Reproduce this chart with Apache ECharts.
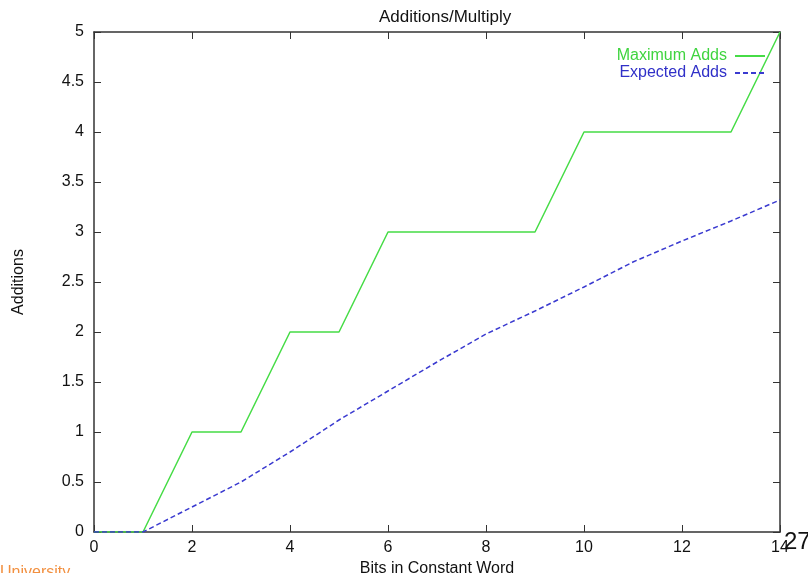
<!DOCTYPE html>
<html>
<head>
<meta charset="utf-8">
<script src="https://cdn.jsdelivr.net/npm/echarts@6/dist/echarts.min.js"></script>
<style>
  html, body { margin: 0; padding: 0; background: #fff; }
  #main { width: 808px; height: 573px; }
</style>
</head>
<body>
<div id="main"></div>
<script>
// 数据
var bits = [0, 1, 2, 3, 4, 5, 6, 7, 8, 9, 10, 11, 12, 13, 14];
var maxAdds = [0, 0, 1, 1, 2, 2, 3, 3, 3, 3, 4, 4, 4, 4, 5];
var expAdds = [0, 0, 0.25, 0.5, 0.8, 1.12, 1.41, 1.70, 1.98, 2.21, 2.45, 2.70, 2.91, 3.11, 3.32];

function pairs(ys) {
    return bits.map(function (x, i) { return [x, ys[i]]; });
}

var myChart = echarts.init(document.getElementById('main'));
var font = 'Liberation Sans, Arial, sans-serif';
var axisColor = '#333';
var green = '#46dc46';
var blue = '#3a3ad0';

// 四周的坐标轴（gnuplot 风格，刻度朝内）
function frameAxis(extra) {
    var a = {
        type: 'value',
        axisLine: { show: true, onZero: false, lineStyle: { color: axisColor, width: 1.5 } },
        axisTick: { show: true, inside: true, length: 7, lineStyle: { color: axisColor } },
        splitLine: { show: false }
    };
    for (var k in extra) a[k] = extra[k];
    return a;
}

myChart.setOption({
    animation: false,
    title: {
        text: 'Additions/Multiply',
        left: 374,
        top: 4,
        textStyle: { fontFamily: font, fontSize: 17, fontWeight: 'normal', color: '#111' }
    },
    legend: {
        orient: 'vertical',
        right: 37,
        top: 43,
        align: 'right',
        itemGap: 1,
        itemWidth: 30,
        itemHeight: 14,
        itemStyle: { color: 'transparent', borderWidth: 0, opacity: 0 },
        textStyle: { fontFamily: font, fontSize: 16, padding: [0, 3, 0, 0] },
        data: [
            { name: 'Maximum Adds', textStyle: { color: '#3fd43f' } },
            { name: 'Expected Adds', textStyle: { color: '#3030c8' } }
        ]
    },
    grid: { left: 94, right: 28, top: 32, bottom: 41, outerBoundsMode: 'none' },
    xAxis: [frameAxis({
        min: 0, max: 14, interval: 2,
        name: 'Bits in Constant Word',
        nameLocation: 'middle',
        nameGap: 19,
        nameTextStyle: { fontFamily: font, fontSize: 16, color: '#111' },
        axisLabel: { fontFamily: font, fontSize: 16, color: '#111', margin: 8 }
    }), frameAxis({
        position: 'top',
        min: 0, max: 14, interval: 2,
        axisLabel: { show: false }
    })],
    yAxis: [frameAxis({
        min: 0, max: 5, interval: 0.5,
        name: 'Additions',
        nameLocation: 'middle',
        nameGap: 67,
        nameTextStyle: { fontFamily: font, fontSize: 16, color: '#111' },
        axisLabel: { fontFamily: font, fontSize: 16, color: '#111', margin: 10 }
    }), frameAxis({
        position: 'right',
        min: 0, max: 5, interval: 0.5,
        axisLabel: { show: false }
    })],
    series: [{
        name: 'Maximum Adds',
        type: 'line',
        data: pairs(maxAdds),
        symbol: 'none',
        lineStyle: { color: green, width: 1.5 },
        itemStyle: { color: green }
    }, {
        name: 'Expected Adds',
        type: 'line',
        data: pairs(expAdds),
        symbol: 'none',
        lineStyle: { color: blue, width: 1.5, type: [5, 3] },
        itemStyle: { color: blue }
    }],
    graphic: [{
        type: 'text',
        left: 784,
        top: 530,
        style: { text: '27', fontFamily: font, fontSize: 24, fill: '#111' }
    }, {
        type: 'text',
        left: 0,
        top: 565,
        style: { text: 'University', fontFamily: font, fontSize: 16, fill: '#f29040' }
    }]
});
</script>
</body>
</html>
